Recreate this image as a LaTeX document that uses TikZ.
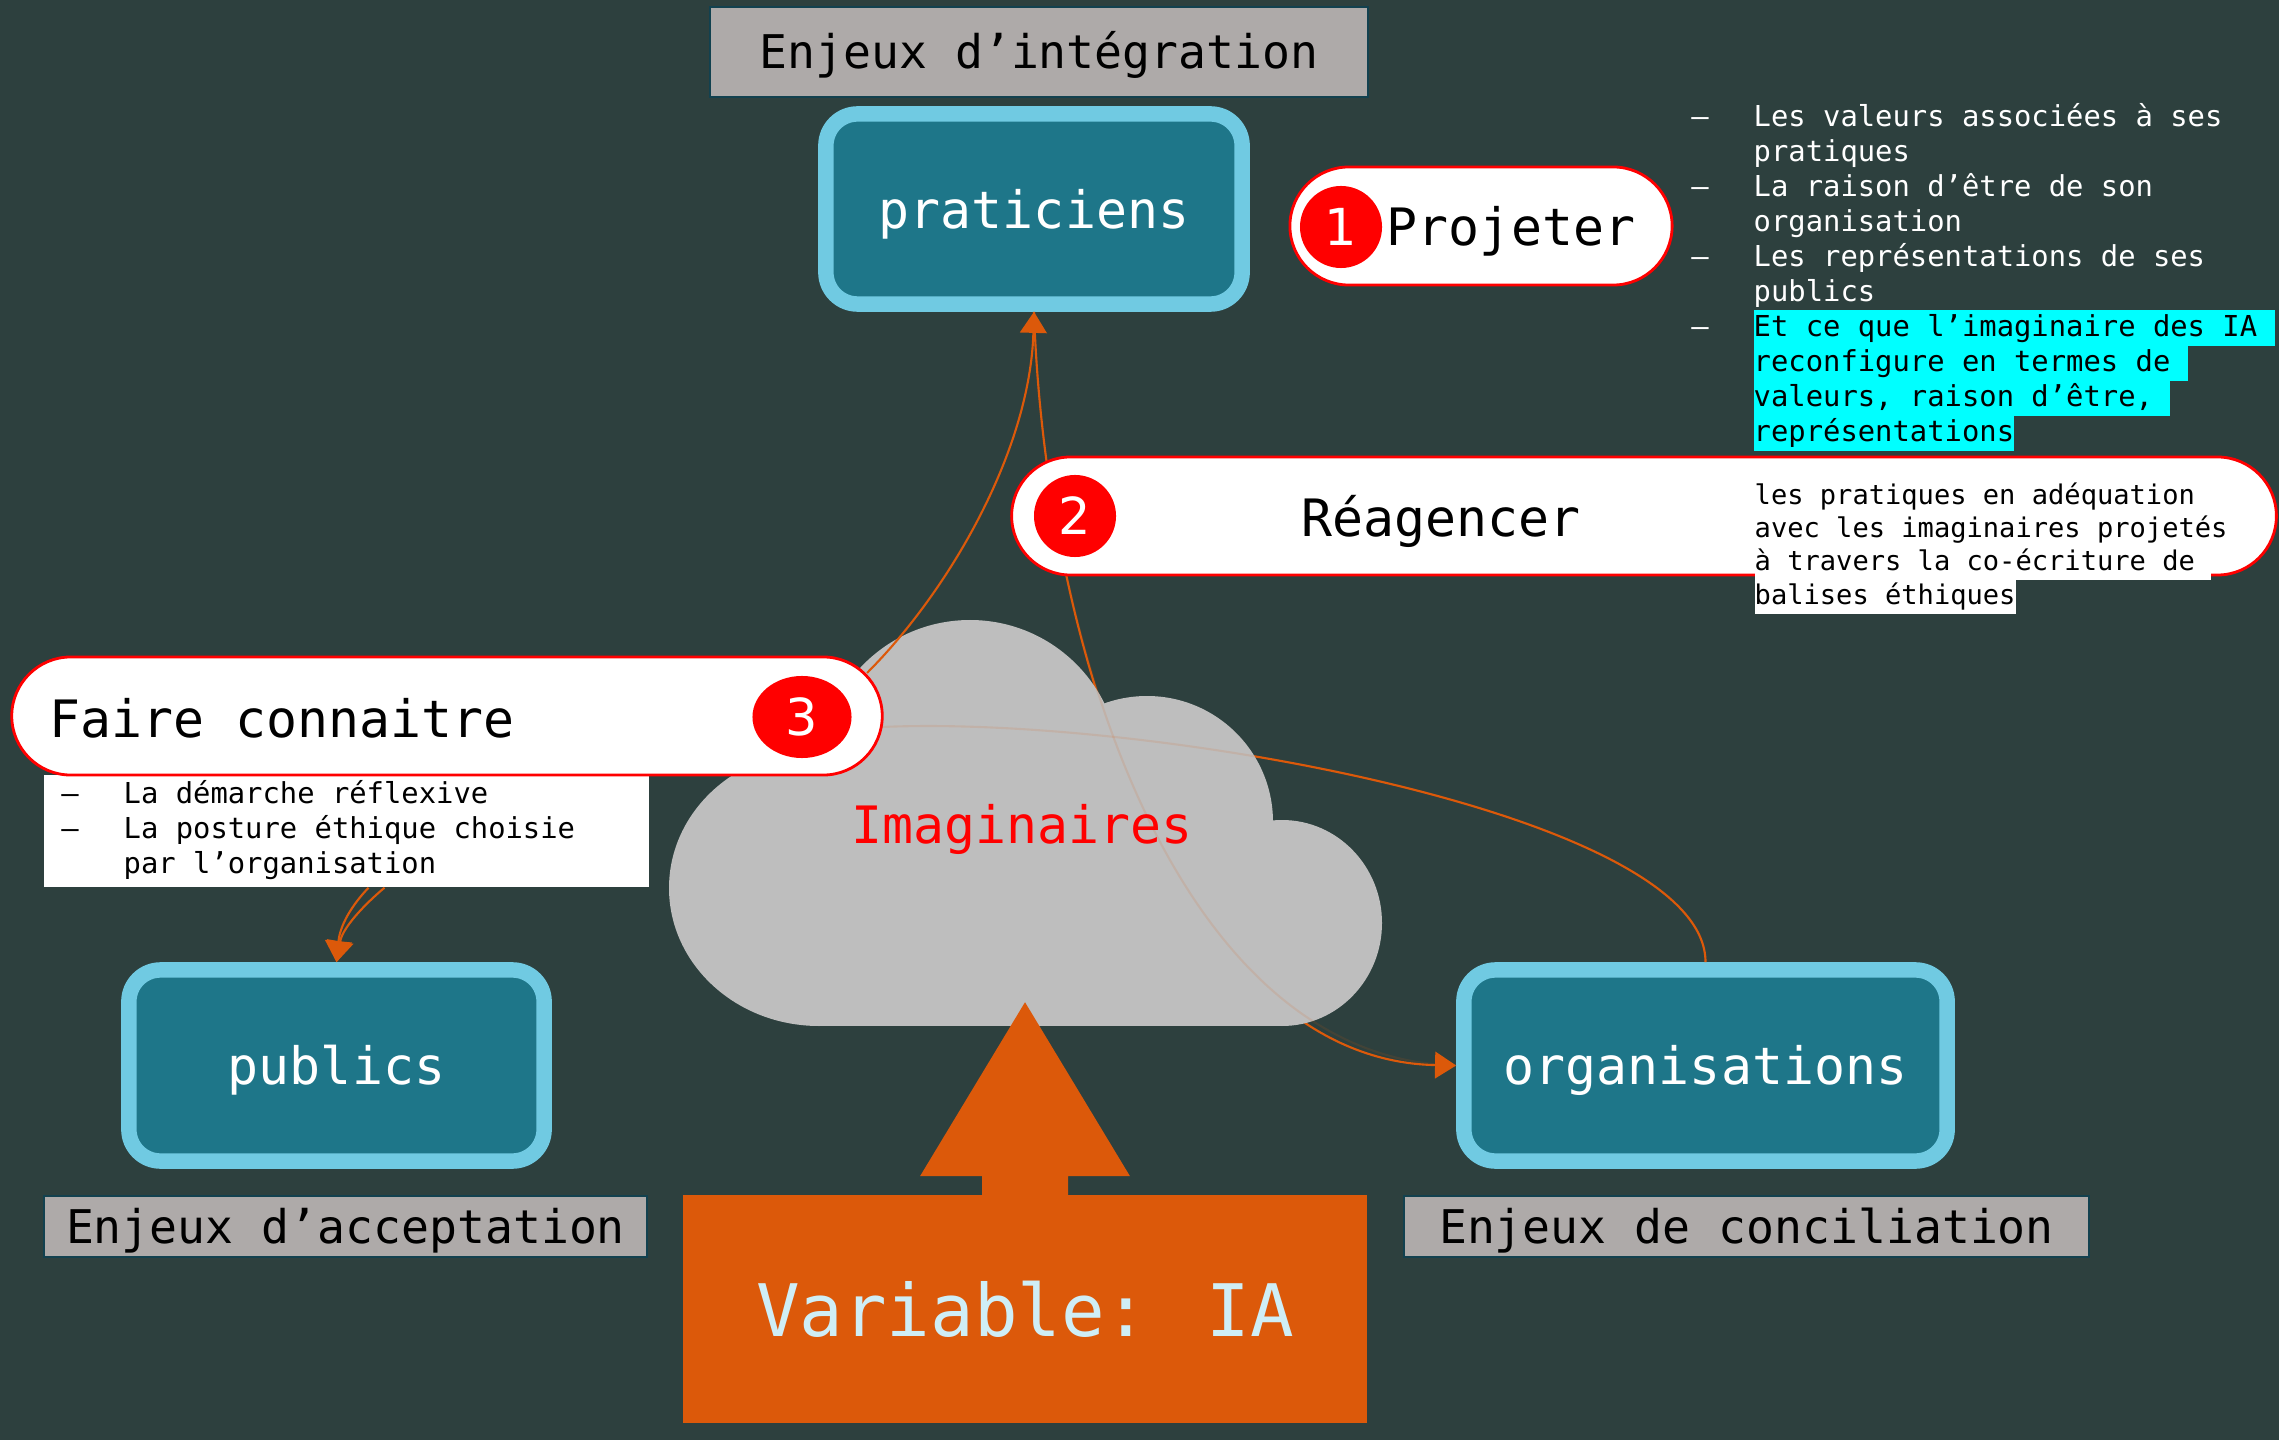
\documentclass[tikz,border=0pt]{standalone}
\usepackage{fontspec}
\setmainfont{DejaVu Sans Mono}
\newfontfamily\chiffre{DejaVu Sans}
\usetikzlibrary{calc,arrows.meta,shapes.misc,shapes.geometric}

\definecolor{fond}{HTML}{2D403E}
\definecolor{bleuFond}{HTML}{1E7689}
\definecolor{bleuBord}{HTML}{70CAE2}
\definecolor{grisEnjeu}{HTML}{AEAAA9}
\definecolor{bordEnjeu}{HTML}{12414F}
\definecolor{grisNuage}{HTML}{BEBEBE}
\definecolor{orangeIA}{HTML}{DC590A}
\definecolor{bleuIA}{HTML}{CFEEF6}
\definecolor{surligne}{HTML}{00FFFF}

\begin{document}
\begin{tikzpicture}[x=0.01cm,y=-0.01cm]
%styles
\tikzstyle{acteur}=[rectangle, rounded corners=9pt, draw=bleuBord, fill=bleuFond, line width=4.4pt, text=white, text height=13.9pt, text depth=3pt, font=\fontsize{14.65}{17}\selectfont]
\tikzstyle{enjeu}=[rectangle, draw=bordEnjeu, fill=grisEnjeu, line width=0.6pt, inner sep=0pt, text=black, text height=12.6pt, text depth=3.1pt, font=\fontsize{13.2}{16}\selectfont]
\tikzstyle{pilule}=[rounded rectangle, draw=red, fill=white, line width=0.8pt, inner sep=0pt]
\tikzstyle{numero}=[circle, fill=red, text=white, inner sep=0pt, minimum size=0.82cm, font=\chiffre\fontsize{14.5}{17}\selectfont]
\tikzstyle{titre}=[rectangle, text=black, inner sep=0pt, text height=13.9pt, text depth=3pt, font=\fontsize{14.65}{17}\selectfont]
\tikzstyle{puce}=[rectangle, anchor=west, inner sep=0pt, text height=7.3pt, text depth=2.66pt, font=\fontsize{8.2}{10}\selectfont]
\tikzstyle{tiret}=[rectangle, inner sep=0pt, text height=7.3pt, text depth=2.66pt, font=\fontsize{8.2}{10}\selectfont]
\tikzstyle{puceR}=[rectangle, anchor=west, inner sep=0pt, fill=white, text=black, text height=7pt, text depth=2.55pt, font=\fontsize{7.7}{9.5}\selectfont]
\tikzstyle{nuage}=[grisNuage]
\tikzstyle{lien}=[draw=orangeIA, line width=0.6pt]
\tikzstyle{fleche}=[lien, -{Triangle[length=6pt,width=7.6pt]}]
%figure
\path[use as bounding box, fill=fond] (0,0) rectangle (2279,1440);

%enjeux
\node[enjeu, minimum width=6.58cm, minimum height=0.90cm] (integration) at (1039,52) {Enjeux d’intégration};
\node[enjeu, minimum width=6.03cm, minimum height=0.61cm] (acceptation) at (345.5,1226.5) {Enjeux d’acceptation};
\node[enjeu, minimum width=6.85cm, minimum height=0.61cm] (conciliation) at (1746.5,1226.5) {Enjeux de conciliation};

%acteurs
\node[acteur, minimum width=4.16cm, minimum height=1.90cm] (praticiens) at (1034,209) {praticiens};
\node[acteur, minimum width=4.15cm, minimum height=1.91cm] (publics) at (336.5,1065.5) {publics};
\node[acteur, minimum width=4.83cm, minimum height=1.91cm] (organisations) at (1705.5,1065.5) {organisations};

%liens sous le nuage
\coordinate (f3a) at (867,673);
\coordinate (f3b) at (882,727);
\draw[fleche] (praticiens.south) .. controls (1045,650) and (1180,1060) .. (organisations.west);
\draw[lien] (f3b) .. controls (1150,715) and (1706,815) .. (organisations.north);

%nuage
\fill[nuage] (819,888) ellipse [x radius=150, y radius=138];
\fill[nuage] (970,770) circle [radius=150];
\fill[nuage] (1147,822) circle [radius=126];
\fill[nuage] (1282,923) ellipse [x radius=100, y radius=103];
\fill[nuage] (819,823) rectangle (1282,1026);
\fill[nuage] (900,770) rectangle (1150,1026);
% \draw (1025,900) circle[radius=2pt];
\draw[lien, draw opacity=0.12] (praticiens.south) .. controls (1045,650) and (1180,1060) .. (organisations.west);
\draw[lien, draw opacity=0.12] (f3b) .. controls (1150,715) and (1706,815) .. (organisations.north);
\node[titre, text=red] (imaginaires) at (1022,824) {Imaginaires};

%faire connaitre
\node[fill=white, inner sep=0pt, minimum width=6.05cm, minimum height=1.12cm] (listeF) at (346.5,831) {};
\foreach \y in {795,830}
  \node[tiret] (tiretF\y) at (70,\y) {–};
\foreach \y/\t in {795/La démarche réflexive, 830/La posture éthique choisie, 865/par l’organisation}
  \node[puce, text=black] (puceF\y) at (123,\y) {\t};
\node[pilule, minimum width=8.70cm, minimum height=1.18cm] (faire) at (447,716) {};
\node[titre, anchor=west] (faireT) at (49,718) {Faire connaitre};
\node[numero, ellipse, minimum width=0.99cm, minimum height=0.82cm] (num3) at (802,717) {3};

%projeter
\node[pilule, minimum width=3.82cm, minimum height=1.18cm] (projeter) at (1481,226) {};
\node[numero] (num1) at (1341,227) {1};
\node[titre] (projeterT) at (1511,226) {Projeter};
\foreach \y in {118,188,258,328}
  \node[tiret, text=white] (tiretD\y) at (1700,\y) {–};
\foreach \y/\t in {118/Les valeurs associées à ses, 153/pratiques, 188/La raison d’être de son, 223/organisation, 258/Les représentations de ses, 293/publics}
  \node[puce, text=white] (puceD\y) at (1753,\y) {\t};
\foreach \y/\t in {328/Et ce que l’imaginaire des IA\hphantom{x}, 363/reconfigure en termes de\hphantom{x}, 398/{valeurs, raison d’être,\hphantom{x}}, 433/représentations}
  \node[puce, fill=surligne, text=black] (puceD\y) at (1753,\y) {\t};

%reagencer
\node[pilule, minimum width=12.64cm, minimum height=1.18cm] (reagencer) at (1644,516) {};
\node[numero] (num2) at (1075,516) {2};
\node[titre] (reagencerT) at (1441,517) {Réagencer};
\foreach \y/\t in {497/les pratiques en adéquation, 530/avec les imaginaires projetés, 563/à travers la co-écriture de\hphantom{x}, 597/balises éthiques}
  \node[puceR] (puceR\y) at (1754,\y) {\t};

%liens
\draw[fleche] (f3a) .. controls (950,590) and (1030,450) .. (praticiens.south);
\coordinate (l4a) at ($(listeF.south)+(22,0)$);
\coordinate (l4b) at ($(listeF.south)+(38,0)$);
\draw[fleche] (l4a) .. controls (352,905) and (340,925) .. (publics.north);
\draw[fleche] (l4b) .. controls (372,898) and (343,925) .. (publics.north);

%variable
\node[fill=orangeIA, inner sep=0pt, minimum width=6.84cm, minimum height=2.28cm, text=bleuIA, font=\fontsize{20.6}{24}\selectfont] (variable) at (1025,1309) {Variable: IA};
\fill[orangeIA] ($(variable.north)+(-43,1)$) -- ($(variable.north)+(-43,-18)$) -- ($(variable.north)+(-105,-18)$)
  -- ($(variable.north)+(0,-192)$) -- ($(variable.north)+(105,-18)$) -- ($(variable.north)+(43,-18)$) -- ($(variable.north)+(43,1)$) -- cycle;

\end{tikzpicture}
\end{document}
